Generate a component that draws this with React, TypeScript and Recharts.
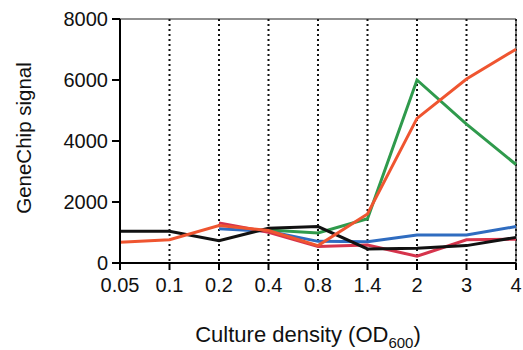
import { LineChart, Line, XAxis, YAxis, CartesianGrid, ReferenceLine } from 'recharts';

const densities = ['0.05', '0.1', '0.2', '0.4', '0.8', '1.4', '2', '3', '4'];
const blackSeries = [1040, 1040, 730, 1140, 1195, 460, 480, 570, 840];
const blueSeries = [null, null, 1120, 1040, 710, 700, 920, 920, 1195];
const greenSeries = [null, null, null, 1085, 985, 1450, 6000, 4550, 3230];
const redSeries = [null, null, 1315, 1010, 540, 590, 220, 760, 780];
const orangeSeries = [680, 765, 1230, 1065, 570, 1610, 4740, 6030, 7010];
const yTicks = [0, 2000, 4000, 6000, 8000];

const data = densities.map((d, i) => ({
  od: d,
  black: blackSeries[i],
  blue: blueSeries[i],
  green: greenSeries[i],
  red: redSeries[i],
  orange: orangeSeries[i],
}));

const FONT = '"Liberation Sans", Arial, sans-serif';

function XTitle(props: any) {
  const vb = props.viewBox;
  const cx = vb.x + vb.width / 2 - 10;
  return (
    <text x={cx} y={342} textAnchor="middle" fontFamily={FONT} fontSize={22} fill="#111">
      Culture density (OD
      <tspan fontSize={15} dy={6}>600</tspan>
      <tspan dy={-6}>)</tspan>
    </text>
  );
}

function YTitle(props: any) {
  const vb = props.viewBox;
  const cy = vb.y + vb.height / 2 - 3;
  return (
    <text
      x={31}
      y={cy}
      transform={`rotate(-90, 31, ${cy})`}
      textAnchor="middle"
      fontFamily={FONT}
      fontSize={20.5}
      fill="#111"
    >
      GeneChip signal
    </text>
  );
}

export default function App() {
  return (
    <div style={{ position: 'absolute', left: 0, top: 0, background: '#fff' }}>
      <LineChart
        width={523}
        height={350}
        data={data}
        margin={{ top: 19, right: 7, left: 0, bottom: 0 }}
      >
        <CartesianGrid horizontal={false} strokeDasharray="2 3" stroke="#111" strokeWidth={2} />
        <ReferenceLine y={8000} stroke="#222" strokeWidth={1.2} />
        <ReferenceLine x="4" stroke="#222" strokeWidth={1.2} />
        <XAxis
          dataKey="od"
          height={87}
          tickLine={{ stroke: '#000', strokeWidth: 2 }}
          tickSize={7}
          axisLine={{ stroke: '#000', strokeWidth: 2 }}
          tick={{ fontSize: 20, fill: '#111', fontFamily: FONT }}
          tickMargin={8}
          interval={0}
          label={<XTitle />}
        />
        <YAxis
          width={120}
          domain={[0, 8000]}
          ticks={yTicks}
          tickLine={{ stroke: '#000', strokeWidth: 2 }}
          tickSize={8}
          axisLine={{ stroke: '#000', strokeWidth: 2 }}
          tick={{ fontSize: 20, fill: '#111', fontFamily: FONT }}
          tickMargin={4}
          label={<YTitle />}
        />
        <Line dataKey="green" stroke="#2f9a4c" strokeWidth={3} dot={false} isAnimationActive={false} />
        <Line dataKey="blue" stroke="#2f6cc0" strokeWidth={3} dot={false} isAnimationActive={false} />
        <Line dataKey="red" stroke="#d6344c" strokeWidth={3} dot={false} isAnimationActive={false} />
        <Line dataKey="black" stroke="#111" strokeWidth={3} dot={false} isAnimationActive={false} />
        <Line dataKey="orange" stroke="#ef5530" strokeWidth={3} dot={false} isAnimationActive={false} />
      </LineChart>
    </div>
  );
}
